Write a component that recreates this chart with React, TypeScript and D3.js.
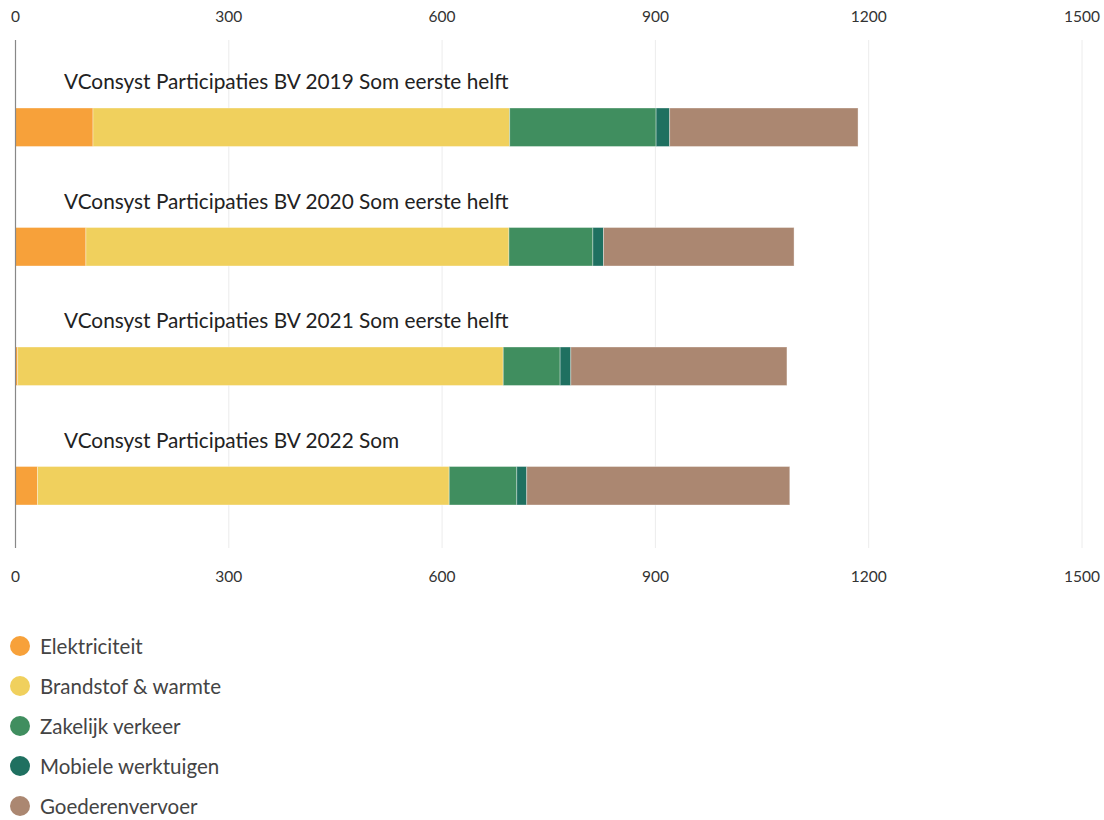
import React, { useEffect, useRef } from 'react';
import * as d3 from 'd3';

const categories = [
  'VConsyst Participaties BV 2019 Som eerste helft',
  'VConsyst Participaties BV 2020 Som eerste helft',
  'VConsyst Participaties BV 2021 Som eerste helft',
  'VConsyst Participaties BV 2022 Som',
];
const seriesNames = ['Elektriciteit', 'Brandstof & warmte', 'Zakelijk verkeer', 'Mobiele werktuigen', 'Goederenvervoer'];
const elektriciteit = [109, 99, 3, 31];
const brandstof = [586, 595, 683, 579];
const zakelijk = [206, 118, 80, 95];
const mobiele = [19, 15, 15, 14];
const goederen = [265, 268, 304, 370];
const tickValues = [0, 300, 600, 900, 1200, 1500];

const colors = ['#f7a13a', '#f0d05d', '#408e5f', '#1f7060', '#ab8771'];
const FONT = 'Lato, "Noto Sans", sans-serif';

const App: React.FC = () => {
  const svgRef = useRef<SVGSVGElement | null>(null);

  useEffect(() => {
    document.body.style.margin = '0';
    if (!svgRef.current) return;
    const svg = d3.select(svgRef.current);
    svg.selectAll('*').remove();

    const rows = categories.map((c, i) => ({
      name: c,
      values: [elektriciteit[i], brandstof[i], zakelijk[i], mobiele[i], goederen[i]],
    }));

    const x = d3.scaleLinear().domain([0, 1500]).range([15.5, 1082]);
    const band = d3.scaleBand<string>().domain(categories).range([48, 526]).paddingInner(0);
    const barH = 38.5;
    const plotTop = 40;
    const plotBottom = 548;

    // grid
    svg.append('g')
      .selectAll('line')
      .data(tickValues.slice(1))
      .join('line')
      .attr('x1', d => x(d)).attr('x2', d => x(d))
      .attr('y1', plotTop).attr('y2', plotBottom)
      .attr('stroke', '#ececec').attr('stroke-width', 1);

    // tick labels top and bottom
    [17, 577].forEach(ty => {
      svg.append('g')
        .selectAll('text')
        .data(tickValues)
        .join('text')
        .attr('x', d => x(d))
        .attr('y', ty)
        .attr('dy', '0.35em')
        .attr('text-anchor', 'middle')
        .attr('font-family', FONT)
        .attr('font-size', 15.5)
        .attr('fill', '#333')
        .text(d => d);
    });

    const stack = d3.stack<{ name: string; values: number[] }, number>()
      .keys([0, 1, 2, 3, 4])
      .value((d, k) => d.values[k]);
    const stacked = stack(rows);

    stacked.forEach((layer, k) => {
      svg.append('g')
        .selectAll('rect')
        .data(layer)
        .join('rect')
        .attr('x', d => x(d[0]))
        .attr('width', d => x(d[1]) - x(d[0]))
        .attr('y', d => (band(d.data.name) as number) + band.bandwidth() - barH - 21)
        .attr('height', barH)
        .attr('fill', colors[k])
        .attr('stroke', 'rgba(255,255,255,0.35)')
        .attr('stroke-width', 1);
    });

    // category labels
    svg.append('g')
      .selectAll('text')
      .data(categories)
      .join('text')
      .attr('x', 64)
      .attr('y', d => (band(d) as number) + band.bandwidth() - barH - 21 - 26)
      .attr('dy', '0.35em')
      .attr('font-family', FONT)
      .attr('font-size', 20.8)
      .attr('fill', '#222')
      .text(d => d);

    // y axis line
    svg.append('line')
      .attr('x1', x(0)).attr('x2', x(0))
      .attr('y1', plotTop).attr('y2', plotBottom)
      .attr('stroke', '#888').attr('stroke-width', 1.2);

    // legend
    const legend = svg.append('g')
      .selectAll('g')
      .data(seriesNames)
      .join('g')
      .attr('transform', (_, i) => `translate(20,${646 + i * 40})`);
    legend.append('circle').attr('r', 10).attr('fill', (_, i) => colors[i]);
    legend.append('text')
      .attr('x', 20)
      .attr('y', 1)
      .attr('dy', '0.35em')
      .attr('font-family', FONT)
      .attr('font-size', 20.5)
      .attr('fill', '#444')
      .text(d => d);
  }, []);

  return <svg ref={svgRef} width={1104} height={820} style={{ display: 'block', background: '#fff' }} />;
};

export default App;
